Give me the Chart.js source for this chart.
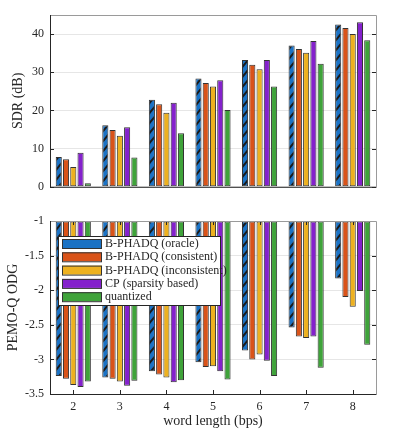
<!DOCTYPE html>
<html>
<head>
<meta charset="utf-8">
<script src="https://cdn.jsdelivr.net/npm/chart.js@4"></script>
<style>
  body { margin: 0; background: #fff; }
  canvas { position: absolute; left: 0; }
</style>
</head>
<body>
<canvas id="sdrChart" width="398" height="200" style="top:0"></canvas>
<canvas id="odgChart" width="398" height="236" style="top:200px"></canvas>
<script>
const wordLengths = ['2', '3', '4', '5', '6', '7', '8'];
const methods = ['B-PHADQ (oracle)', 'B-PHADQ (consistent)', 'B-PHADQ (inconsistent)', 'CP (sparsity based)', 'quantized'];
const colors = ['#1b72c4', '#d95319', '#edb120', '#8421cc', '#3fa33a'];

// SDR (dB)
const sdrOracle       = [7.8, 16.1, 22.8, 28.4, 33.2, 37.0, 42.5];
const sdrConsistent   = [7.2, 14.9, 21.6, 27.2, 32.0, 36.1, 41.6];
const sdrInconsistent = [5.2, 13.4, 19.4, 26.3, 30.8, 35.1, 40.0];
const sdrCP           = [8.9, 15.6, 22.0, 27.9, 33.2, 38.2, 43.1];
const sdrQuantized    = [0.9, 7.7, 14.0, 20.1, 26.3, 32.2, 38.4];

// PEMO-Q ODG
const odgOracle       = [-3.24, -3.26, -3.17, -3.04, -2.87, -2.54, -1.83];
const odgConsistent   = [-3.28, -3.28, -3.22, -3.11, -3.00, -2.67, -2.10];
const odgInconsistent = [-3.37, -3.32, -3.26, -3.10, -2.93, -2.69, -2.24];
const odgCP           = [-3.40, -3.38, -3.33, -3.17, -3.02, -2.67, -2.01];
const odgQuantized    = [-3.32, -3.31, -3.30, -3.29, -3.24, -3.12, -2.79];

const sdrTicks = [0, 10, 20, 30, 40];
const odgTicks = [-3.5, -3, -2.5, -2, -1.5, -1];

const serif = '"Liberation Serif", "DejaVu Serif", serif';
const dark = '#262626';

// hatched fill for the oracle bars
function hatch(color) {
  const c = document.createElement('canvas');
  c.width = 8; c.height = 10;
  const g = c.getContext('2d');
  g.fillStyle = color;
  g.fillRect(0, 0, 8, 10);
  g.strokeStyle = '#1a1a1a';
  g.lineWidth = 2;
  g.beginPath();
  g.moveTo(0, 10); g.lineTo(8, 0);
  g.moveTo(-2, 2.5); g.lineTo(2, -2.5);
  g.moveTo(6, 12.5); g.lineTo(10, 7.5);
  g.stroke();
  return g.createPattern(c, 'repeat');
}

function makeSets(series, base) {
  return series.map((d, i) => ({
    label: methods[i],
    data: d,
    backgroundColor: i === 0 ? hatch(colors[0]) : colors[i],
    borderColor: '#333',
    borderWidth: 1,
    borderSkipped: false,
    categoryPercentage: 0.78,
    barPercentage: 0.84,
    base: base
  }));
}

// box around plot with inward ticks (matlab style)
const frame = {
  id: 'frame',
  afterDatasetsDraw(chart, args, opts) {
    const { ctx, chartArea: a } = chart;
    const y = chart.scales.y, x = chart.scales.x;
    ctx.save();
    ctx.lineWidth = 1;
    ctx.strokeStyle = dark;
    ctx.beginPath();
    y.ticks.forEach(t => {
      const py = Math.round(y.getPixelForValue(t.value)) + 0.5;
      ctx.moveTo(a.left, py); ctx.lineTo(a.left + 4, py);
      ctx.moveTo(a.right, py); ctx.lineTo(a.right - 4, py);
    });
    if (opts.xTicks) {
      wordLengths.forEach((w, i) => {
        const px = Math.round(x.getPixelForValue(i)) + 0.5;
        ctx.moveTo(px, a.bottom); ctx.lineTo(px, a.bottom - 4);
        ctx.moveTo(px, a.top); ctx.lineTo(px, a.top + 4);
      });
    }
    ctx.stroke();
    ctx.strokeStyle = '#9a9a9a';
    ctx.beginPath();
    ctx.moveTo(a.left, a.top + 0.5); ctx.lineTo(a.right + 0.5, a.top + 0.5);
    ctx.lineTo(a.right + 0.5, a.bottom);
    ctx.stroke();
    ctx.strokeStyle = dark;
    ctx.beginPath();
    ctx.moveTo(a.left + 0.5, a.top); ctx.lineTo(a.left + 0.5, a.bottom + 0.5);
    ctx.lineTo(a.right + 0.5, a.bottom + 0.5);
    ctx.stroke();
    ctx.restore();
  }
};

// legend drawn inside the lower plot
const boxLegend = {
  id: 'boxLegend',
  afterDraw(chart) {
    const { ctx, chartArea: a } = chart;
    const lx = a.left + 8, ly = a.top + 15, w = 162, h = 69;
    ctx.save();
    ctx.fillStyle = '#fff';
    ctx.fillRect(lx, ly, w, h);
    ctx.strokeStyle = dark;
    ctx.lineWidth = 1;
    ctx.strokeRect(lx + 0.5, ly + 0.5, w, h);
    ctx.font = '12px ' + serif;
    ctx.textBaseline = 'middle';
    methods.forEach((m, i) => {
      const cy = ly + 7.5 + i * 13.3;
      ctx.fillStyle = colors[i];
      ctx.fillRect(lx + 4, cy - 4.5, 40, 9);
      ctx.strokeStyle = '#333';
      ctx.strokeRect(lx + 4.5, cy - 4, 39, 9);
      ctx.fillStyle = dark;
      ctx.fillText(m, lx + 47, cy + 0.5);
    });
    ctx.restore();
  }
};

const tickFont = { family: serif, size: 12 };
const titleFont = { family: serif, size: 14 };

new Chart(document.getElementById('sdrChart'), {
  type: 'bar',
  data: {
    labels: wordLengths,
    datasets: makeSets([sdrOracle, sdrConsistent, sdrInconsistent, sdrCP, sdrQuantized], 0)
  },
  options: {
    responsive: false,
    animation: false,
    layout: { padding: { top: 15, right: 22, bottom: 10, left: 0 } },
    plugins: { legend: { display: false }, tooltip: { enabled: false }, frame: { xTicks: false } },
    scales: {
      x: { display: false },
      y: {
        min: 0, max: 45,
        afterBuildTicks: s => { s.ticks = sdrTicks.map(v => ({ value: v })); },
        afterFit: s => { s.width = 50; },
        grid: { color: '#e6e6e6', drawTicks: false },
        border: { display: false },
        ticks: { font: tickFont, color: dark, padding: 6, callback: v => String(v) },
        title: { display: true, text: 'SDR (dB)', font: titleFont, color: dark, padding: { top: 10, bottom: 0 } }
      }
    }
  },
  plugins: [frame]
});

new Chart(document.getElementById('odgChart'), {
  type: 'bar',
  data: {
    labels: wordLengths,
    datasets: makeSets([odgOracle, odgConsistent, odgInconsistent, odgCP, odgQuantized], -1)
  },
  options: {
    responsive: false,
    animation: false,
    layout: { padding: { top: 21, right: 22, bottom: 0, left: 0 } },
    plugins: { legend: { display: false }, tooltip: { enabled: false }, frame: { xTicks: true } },
    scales: {
      x: {
        grid: { display: false, drawTicks: false },
        border: { display: false },
        afterFit: s => { s.height = 42; },
        ticks: { font: tickFont, color: dark, padding: 6, maxRotation: 0 },
        title: { display: true, text: 'word length (bps)', font: titleFont, color: dark, padding: { top: 6, bottom: 6 } }
      },
      y: {
        min: -3.5, max: -1,
        afterBuildTicks: s => { s.ticks = odgTicks.map(v => ({ value: v })); },
        afterFit: s => { s.width = 50; },
        grid: { color: '#e6e6e6', drawTicks: false },
        border: { display: false },
        ticks: { font: tickFont, color: dark, padding: 6, callback: v => String(v) },
        title: { display: true, text: 'PEMO-Q ODG', font: titleFont, color: dark, padding: { top: 5, bottom: 0 } }
      }
    }
  },
  plugins: [frame, boxLegend]
});
</script>
</body>
</html>
